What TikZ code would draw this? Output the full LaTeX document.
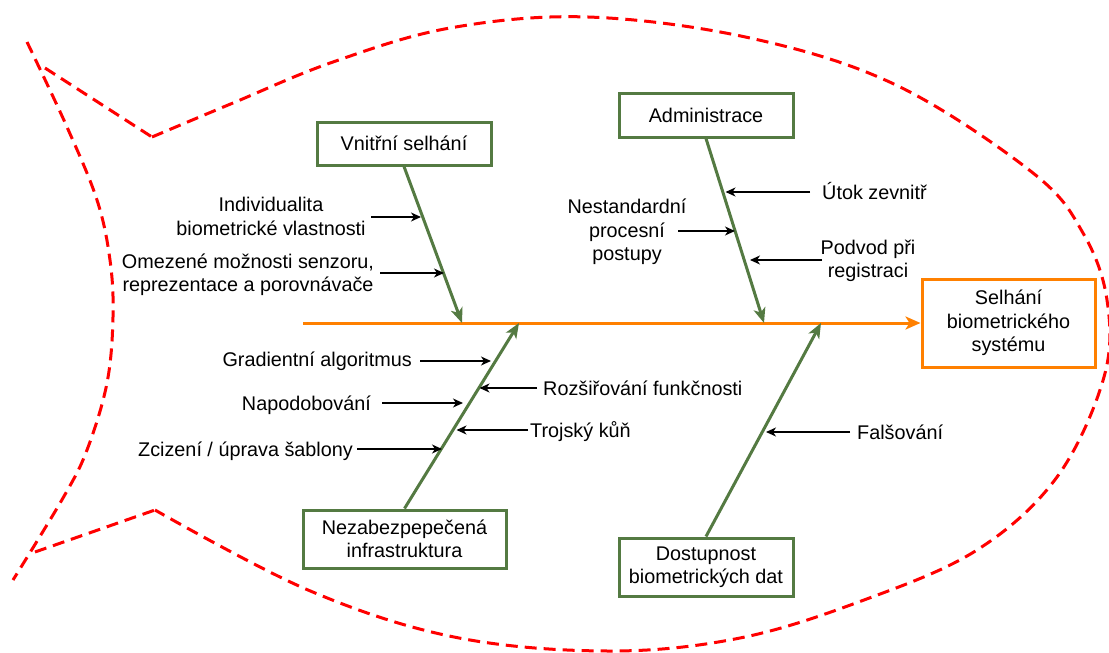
\documentclass[tikz,border=0pt]{standalone}
\usepackage{fontspec}
\setmainfont{Liberation Sans}
\usetikzlibrary{arrows.meta}
\definecolor{catgreen}{RGB}{84,122,66}
\definecolor{spineorange}{RGB}{255,128,0}
\definecolor{fishred}{RGB}{255,0,0}
\begin{document}
\begin{tikzpicture}[x=1pt,y=-1pt,
  font=\fontsize{19.8}{23.5}\selectfont,
  fish/.style={draw=fishred, line width=3pt, dash pattern=on 12pt off 7pt},
  catbox/.style={draw=catgreen, line width=3pt, fill=white, align=center, inner sep=2pt},
  goalbox/.style={draw=spineorange, line width=3pt, fill=white, align=center, inner sep=2pt,
    minimum width=173pt, minimum height=88pt},
  bone/.style={draw=catgreen, line width=3pt, -{Stealth[length=15pt,width=12pt,inset=4pt]}},
  spine/.style={draw=spineorange, line width=3pt, -{Stealth[length=15pt,width=13pt,inset=4pt]}},
  cause/.style={draw=black, line width=1.3pt, -{Stealth[length=10pt,width=9pt,inset=3pt]}},
  lbl/.style={inner sep=0pt, align=center}]
\useasboundingbox (0,0) rectangle (1109,653);

% fish outline
\draw[fish] plot[smooth, tension=0.6] coordinates {(152,137) (233,103) (333,62) (450,28) (588,17) (750,38) (896,85) (1033,173) (1083,233) (1107,300) (1104,377) (1057,477) (977,550) (864,600) (740,638) (608,651) (454,637) (308,590) (155,510)};
\draw[fish] plot[smooth, tension=0.6] coordinates {(27,42) (67,127) (97,200) (110,260) (113,317) (107,383) (87,450) (63,498) (13,580)};
\draw[fish] (45,68) -- (152,137);
\draw[fish] (35,552) -- (155,510);

% category boxes
\node[catbox, minimum width=174pt, minimum height=43pt] (vs) at (404,143.5) {Vnitřní selhání};
\node[catbox, minimum width=174pt, minimum height=44pt] (ad) at (706,115) {Administrace};
\node[catbox, minimum width=203pt, minimum height=58pt] (ni) at (404.5,539) {Nezabezpepečená\\infrastruktura};
\node[catbox, minimum width=174pt, minimum height=58pt] (db) at (706,567) {Dostupnost\\biometrických dat};
\node[goalbox] (goal) at (1008.5,323) {Selhání\\biometrického\\systému};

% spine
\coordinate (tail) at (303,323);
\coordinate (j1) at (462,323);
\coordinate (j2) at (519,323);
\coordinate (j3) at (764,323);
\coordinate (j4) at (821,323);
\draw[spine] (tail) -- (goal.west);

% bones
\draw[bone] (vs.south) -- (j1);
\draw[bone] (ad.south) -- (j3);
\draw[bone] (ni.north) -- (j2);
\draw[bone] (db.north) -- (j4);

% cause labels
\node[lbl] (c1) at (271,216.5) {Individualita\\biometrické vlastnosti};
\node[lbl] (c2) at (248,275) {Omezené možnosti senzoru,\\reprezentace a porovnávače};
\node[lbl, anchor=base west] (c3) at (822,199) {Útok zevnitř};
\node[lbl] (c4) at (627,232) {Nestandardní\\procesní\\postupy};
\node[lbl] (c5) at (868,261) {Podvod při\\registraci};
\node[lbl, anchor=base east] (c6) at (412,366.5) {Gradientní algoritmus};
\node[lbl, anchor=base west] (c7) at (543,395) {Rozšiřování funkčnosti};
\node[lbl, anchor=base east] (c8) at (371,410) {Napodobování};
\node[lbl, anchor=base west] (c9) at (530,437.5) {Trojský kůň};
\node[lbl, anchor=base east] (c10) at (353,456) {Zcizení / úprava šablony};
\node[lbl, anchor=base west] (c11) at (857,439) {Falšování};

% cause arrow ends
\coordinate (s1) at (371,217);  \coordinate (t1) at (421,217);
\coordinate (s2) at (380,273);  \coordinate (t2) at (444,273);
\coordinate (s3) at (810,192);  \coordinate (t3) at (725.5,192);
\coordinate (s4) at (678,231);  \coordinate (t4) at (735,231);
\coordinate (s5) at (822,260);  \coordinate (t5) at (750,260);
\coordinate (s6) at (420,361);  \coordinate (t6) at (491,361);
\coordinate (s7) at (537,388);  \coordinate (t7) at (479.5,388);
\coordinate (s8) at (382,403);  \coordinate (t8) at (463,403);
\coordinate (s9) at (528,430);  \coordinate (t9) at (456.5,430);
\coordinate (s10) at (357,449); \coordinate (t10) at (442,449);
\coordinate (s11) at (850,432); \coordinate (t11) at (766,432);

\foreach \i in {1,...,11} {\draw[cause] (s\i) -- (t\i);}
\end{tikzpicture}
\end{document}
